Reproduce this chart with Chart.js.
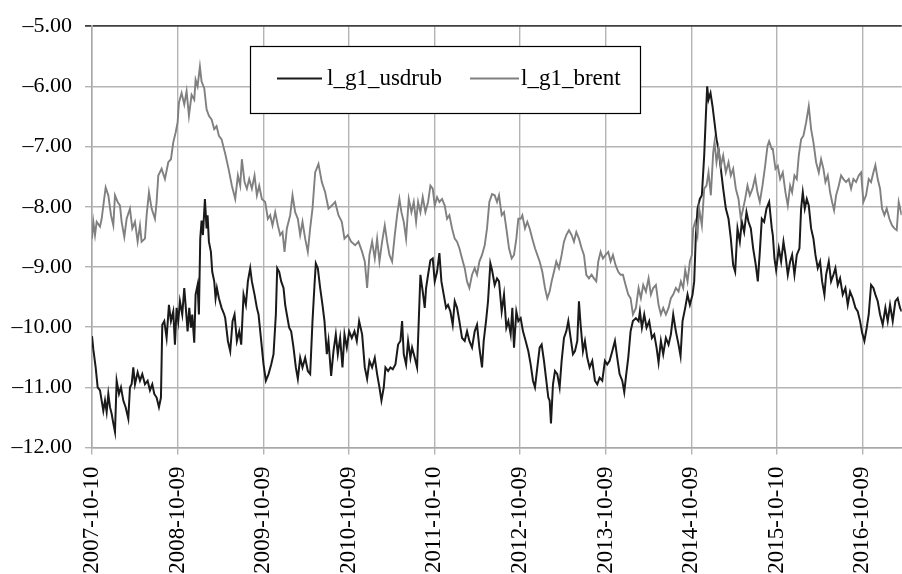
<!DOCTYPE html>
<html>
<head>
<meta charset="utf-8">
<script src="https://cdn.jsdelivr.net/npm/chart.js@4.4.1/dist/chart.umd.min.js"></script>
<style>
  html, body { margin: 0; padding: 0; background: #ffffff; }
  #wrap { width: 902px; height: 574px; }
</style>
</head>
<body>
<div id="wrap"><canvas id="c" width="902" height="574"></canvas></div>
<script>
// ---- Data (observation index, ~257 observations per year) ----
const tickObs = [0, 257, 514, 771, 1028, 1285, 1542, 1799, 2056, 2313];
const tickLabels = ['2007-10-10','2008-10-09','2009-10-09','2010-10-09','2011-10-10',
                    '2012-10-09','2013-10-09','2014-10-09','2015-10-10','2016-10-09'];
const lastObs = 2431;

const usdObs = [
0,4,11,17,24,29,34,39,44,49,54,59,64,69,74,81,87,94,101,109,114,119,124,129,137,144,151,159,167,174,181,187,194,201,207,211,217,224,231,237,244,249,254,259,264,271,277,281,287,292,297,301,307,311,317,321,325,329,333,339,344,347,351,357,361,367,371,375,381,389,397,
400,408,415,422,428,435,442,448,455,462,468,475,480,488,495,500,508,515,522,530,538,545,552,556,562,568,575,580,585,592,598,605,612,618,625,632,640,648,655,662,668,672,678,685,692,698,705,710,718,725,732,738,745,752,758,765,772,780,788,795,802,
811,819,826,833,841,849,856,863,869,876,881,889,896,903,911,919,926,931,936,943,949,956,961,969,976,981,986,993,999,1003,1009,1016,1023,1029,1036,1043,1049,1056,1063,1069,1076,1083,1089,1096,1103,1111,1119,1126,1133,1141,1149,1156,1163,1171,1176,1183,1189,1196,1201,1209,1216,
1222,1230,1237,1244,1250,1257,1262,1267,1274,1280,1287,1294,1302,1310,1317,1324,1330,1337,1344,1350,1357,1364,1370,1374,1378,1384,1390,1397,1404,1410,1417,1424,1430,1437,1444,1450,1457,1462,1467,1474,1480,1487,1494,1502,1510,1517,1524,1532,1540,1547,1554,1562,1570,1577,1584,1592,1598,1604,1610,1617,1624,
1633,1641,1645,1651,1658,1665,1673,1681,1688,1695,1701,1708,1715,1723,1731,1738,1745,1753,1761,1767,1773,1781,1788,1795,1803,1808,1813,1818,1825,1831,1838,1843,1847,1851,1857,1863,1869,1875,1881,1888,1895,1903,1911,1918,1925,1931,1938,1945,1951,1958,1965,1971,1978,1985,1993,1999,2005,2011,2018,2025,2033,2041,
2044,2049,2054,2062,2069,2076,2082,2089,2096,2102,2109,2116,2124,2129,2134,2140,2146,2152,2159,2166,2172,2179,2186,2192,2199,2204,2212,2219,2226,2232,2239,2246,2254,2262,2269,2276,2284,2292,2299,2306,2312,2319,2326,2332,2339,2346,2352,2359,2366,2374,2382,2389,2396,2404,2412,2419,2426,2431];
const usdrub = [
-10.15,-10.37,-10.67,-11.00,-11.05,-11.22,-11.39,-11.22,-11.41,-11.11,-11.33,-11.44,-11.60,-11.74,-10.89,-11.11,-11.00,-11.22,-11.33,-11.52,-11.00,-10.95,-10.67,-10.95,-10.75,-10.89,-10.78,-10.95,-10.89,-11.05,-10.95,-11.11,-11.17,-11.33,-11.17,-9.96,-9.90,-10.18,-9.63,-9.90,-9.74,-10.29,-9.68,-9.90,-9.57,-9.79,-9.35,-9.63,-10.07,-9.68,-10.01,-9.79,-10.26,-9.46,-9.30,-9.79,-8.53,-8.23,-8.47,-7.87,-8.36,-8.14,-8.58,-8.75,-9.08,-9.24,-9.52,-9.35,-9.52,-9.68,-9.79,
-9.85,-10.23,-10.40,-9.90,-9.79,-10.23,-10.07,-10.29,-9.46,-9.63,-9.24,-9.02,-9.24,-9.46,-9.68,-9.79,-10.23,-10.62,-10.89,-10.78,-10.62,-10.45,-9.79,-9.02,-9.08,-9.24,-9.35,-9.63,-9.79,-10.01,-10.07,-10.34,-10.67,-10.86,-10.51,-10.67,-10.51,-10.73,-10.78,-9.90,-9.30,-8.94,-9.02,-9.35,-9.63,-9.90,-10.45,-10.23,-10.81,-10.40,-10.12,-10.45,-10.18,-10.67,-10.12,-10.34,-10.07,-10.18,-10.07,-10.23,-9.90,
-10.12,-10.67,-10.86,-10.56,-10.67,-10.51,-10.78,-11.00,-11.22,-11.00,-10.67,-10.73,-10.67,-10.70,-10.62,-10.29,-10.23,-9.90,-10.45,-10.62,-10.23,-10.51,-10.34,-10.51,-10.67,-9.90,-9.13,-9.41,-9.68,-9.35,-9.13,-8.89,-8.86,-9.24,-9.08,-8.77,-9.24,-9.46,-9.68,-9.63,-9.74,-9.96,-9.57,-9.68,-9.90,-10.18,-10.23,-10.07,-10.23,-10.34,-10.07,-9.96,-10.34,-10.67,-10.23,-9.90,-9.57,-8.94,-9.05,-9.30,-9.19,
-9.24,-9.74,-9.46,-10.01,-9.90,-10.12,-9.68,-10.34,-9.74,-9.90,-9.85,-10.07,-10.23,-10.40,-10.62,-10.89,-11.00,-10.67,-10.34,-10.29,-10.56,-10.89,-11.17,-11.22,-11.60,-10.95,-10.73,-10.78,-11.00,-10.56,-10.18,-10.07,-9.90,-10.18,-10.45,-10.40,-10.23,-9.57,-9.96,-10.40,-10.23,-10.51,-10.67,-10.56,-10.89,-10.95,-10.84,-10.89,-10.56,-10.62,-10.56,-10.40,-10.23,-10.51,-10.78,-10.89,-11.08,-10.78,-10.51,-10.07,-9.90,
-9.85,-9.90,-9.74,-10.01,-9.79,-10.01,-9.90,-10.18,-10.12,-10.34,-10.59,-10.23,-10.45,-10.18,-10.29,-10.12,-9.79,-10.07,-10.29,-10.48,-9.90,-9.68,-9.46,-9.63,-9.46,-9.24,-8.47,-8.03,-7.87,-7.81,-7.15,-6.49,-6.00,-6.22,-6.11,-6.33,-6.60,-6.88,-7.04,-7.37,-7.70,-8.03,-8.20,-8.53,-8.97,-9.08,-8.36,-8.58,-8.25,-8.42,-8.09,-8.25,-8.36,-8.69,-8.97,-9.24,-8.75,-8.20,-8.25,-8.03,-7.92,-8.36,
-8.47,-8.86,-9.05,-8.69,-8.91,-8.58,-8.80,-9.13,-8.91,-8.80,-9.13,-8.80,-8.69,-8.03,-7.76,-8.03,-7.87,-7.98,-8.36,-8.53,-8.80,-9.02,-8.91,-9.24,-9.46,-9.13,-8.91,-9.24,-9.13,-9.02,-9.30,-9.19,-9.46,-9.35,-9.63,-9.41,-9.52,-9.68,-9.74,-9.90,-10.09,-10.23,-10.01,-9.79,-9.30,-9.35,-9.46,-9.57,-9.79,-9.96,-9.68,-9.90,-9.63,-9.90,-9.57,-9.52,-9.68,-9.74];

const brentObs = [
0,4,9,14,24,29,34,41,49,57,64,69,77,84,89,97,104,114,121,129,137,144,149,159,164,171,179,189,194,199,209,219,229,237,244,251,257,261,269,277,284,291,299,307,311,317,324,329,337,344,351,359,367,374,381,389,
400,410,420,430,438,445,450,458,465,472,480,488,495,502,510,520,528,535,542,550,558,565,572,578,585,595,602,610,618,625,632,640,648,655,662,670,680,690,700,710,720,730,740,750,758,768,778,790,800,
811,819,826,833,841,849,856,863,871,879,886,893,901,909,916,923,929,936,943,951,959,966,973,979,986,993,1001,1009,1016,1023,1029,1036,1043,1051,1059,1066,1073,1081,1089,1096,1103,1111,1119,1126,1133,1141,1149,1156,1163,1171,1179,1186,1193,1201,1209,1216,
1222,1230,1237,1244,1252,1260,1267,1274,1280,1287,1292,1300,1307,1314,1322,1330,1337,1344,1352,1360,1367,1374,1380,1387,1394,1402,1410,1417,1424,1432,1440,1447,1454,1462,1470,1477,1484,1492,1500,1507,1514,1520,1527,1534,1542,1550,1557,1564,1572,1580,1587,1594,1602,1610,1617,1624,
1633,1641,1648,1655,1663,1671,1678,1685,1693,1701,1708,1715,1723,1731,1738,1745,1753,1761,1768,1775,1781,1788,1795,1801,1805,1811,1818,1823,1831,1838,1845,1851,1858,1865,1869,1875,1881,1888,1895,1903,1911,1918,1925,1933,1941,1948,1955,1961,1968,1975,1983,1991,1998,2005,2013,2021,2028,2033,2041,
2044,2052,2059,2066,2074,2082,2089,2096,2102,2109,2116,2122,2129,2136,2144,2152,2159,2166,2174,2182,2189,2196,2202,2209,2216,2222,2228,2234,2242,2249,2256,2264,2272,2279,2286,2294,2302,2309,2316,2324,2332,2339,2346,2352,2359,2366,2372,2379,2386,2394,2402,2409,2416,2422,2431];
const brent = [
-8.53,-8.25,-8.47,-8.25,-8.33,-8.20,-7.98,-7.68,-7.81,-8.14,-8.31,-7.81,-7.92,-7.98,-8.25,-8.50,-8.20,-8.03,-8.36,-8.25,-8.58,-8.31,-8.58,-8.53,-8.14,-7.76,-8.03,-8.20,-7.92,-7.48,-7.37,-7.54,-7.26,-7.21,-6.93,-6.77,-6.60,-6.27,-6.11,-6.30,-6.08,-6.49,-6.14,-6.22,-5.89,-6.00,-5.67,-5.92,-6.03,-6.38,-6.49,-6.55,-6.71,-6.66,-6.82,-6.88,
-7.12,-7.37,-7.65,-7.87,-7.48,-7.65,-7.21,-7.59,-7.70,-7.54,-7.70,-7.48,-7.81,-7.65,-7.87,-7.92,-8.20,-8.14,-8.31,-8.09,-8.31,-8.47,-8.42,-8.75,-8.36,-8.14,-7.81,-8.09,-8.20,-8.47,-8.25,-8.53,-8.75,-8.36,-8.03,-7.43,-7.29,-7.59,-7.76,-8.03,-7.98,-7.92,-8.14,-8.25,-8.53,-8.47,-8.58,-8.64,-8.58,
-8.75,-8.91,-9.35,-8.80,-8.58,-8.86,-8.53,-8.91,-8.58,-8.31,-8.58,-8.80,-8.91,-8.47,-8.14,-7.87,-8.09,-8.25,-8.53,-7.87,-8.09,-7.92,-8.25,-7.92,-8.09,-7.84,-8.09,-7.92,-7.65,-7.70,-7.98,-7.84,-7.92,-7.87,-7.98,-8.20,-8.14,-8.36,-8.53,-8.58,-8.69,-8.86,-9.02,-9.24,-9.35,-9.13,-9.02,-9.13,-8.91,-8.80,-8.64,-8.36,-7.92,-7.79,-7.81,-7.92,
-7.81,-8.14,-8.09,-8.36,-8.69,-8.86,-8.80,-8.53,-8.20,-8.20,-8.14,-8.36,-8.25,-8.36,-8.53,-8.69,-8.80,-8.91,-9.08,-9.35,-9.52,-9.41,-9.24,-9.08,-8.91,-9.02,-8.80,-8.58,-8.47,-8.39,-8.47,-8.58,-8.42,-8.53,-8.69,-8.80,-9.13,-9.19,-9.13,-9.19,-9.24,-8.91,-8.75,-8.86,-8.80,-8.75,-8.91,-8.80,-8.97,-9.08,-9.13,-9.13,-9.30,-9.46,-9.52,-9.79,
-9.68,-9.35,-9.52,-9.30,-9.41,-9.19,-9.46,-9.35,-9.30,-9.63,-9.79,-9.68,-9.79,-9.68,-9.52,-9.46,-9.35,-9.41,-9.24,-9.35,-9.05,-9.24,-8.91,-8.80,-8.36,-8.25,-8.47,-8.03,-8.31,-7.70,-7.65,-7.43,-7.81,-7.10,-6.93,-7.26,-7.04,-7.32,-7.15,-7.43,-7.26,-7.48,-7.37,-7.70,-7.87,-8.20,-8.03,-7.87,-7.65,-7.81,-7.70,-7.51,-7.76,-7.92,-7.65,-7.32,-6.99,-6.91,-7.04,
-7.04,-7.37,-7.32,-7.54,-7.43,-7.76,-7.98,-7.65,-7.76,-7.48,-7.54,-7.15,-6.88,-6.82,-6.60,-6.33,-6.71,-6.93,-7.26,-7.43,-7.21,-7.37,-7.59,-7.48,-7.76,-7.92,-8.06,-7.81,-7.65,-7.48,-7.54,-7.59,-7.54,-7.70,-7.54,-7.59,-7.48,-7.43,-7.92,-7.81,-7.54,-7.59,-7.43,-7.31,-7.54,-7.70,-8.03,-8.14,-8.03,-8.20,-8.31,-8.36,-8.39,-7.92,-8.14];

const seriesNames = ['l_g1_usdrub', 'l_g1_brent'];

// ---- Chart ----
const SERIF = '"Liberation Serif", "Times New Roman", serif';
const toPts = (xs, ys) => xs.map((x, i) => ({ x: x, y: ys[i] }));

const legendPlugin = {
  id: 'boxLegend',
  afterDraw(chart) {
    const ctx = chart.ctx;
    ctx.save();
    ctx.fillStyle = '#ffffff';
    ctx.fillRect(250, 46.5, 390.5, 67);
    ctx.strokeStyle = '#000000';
    ctx.lineWidth = 1.2;
    ctx.strokeRect(250.5, 46.5, 390, 67);
    const items = [
      { ds: chart.data.datasets[0], x0: 277, x1: 322, tx: 327 },
      { ds: chart.data.datasets[1], x0: 470, x1: 519, tx: 521 }
    ];
    ctx.font = '23px ' + SERIF;
    ctx.textBaseline = 'middle';
    ctx.textAlign = 'left';
    items.forEach(it => {
      ctx.strokeStyle = it.ds.borderColor;
      ctx.lineWidth = 2;
      ctx.beginPath();
      ctx.moveTo(it.x0, 78.5);
      ctx.lineTo(it.x1, 78.5);
      ctx.stroke();
      ctx.fillStyle = '#000000';
      ctx.fillText(it.ds.label, it.tx, 79);
    });
    ctx.restore();
  }
};

new Chart(document.getElementById('c'), {
  type: 'line',
  data: {
    datasets: [
      { label: seriesNames[0], data: toPts(usdObs, usdrub), borderColor: '#1a1a1a',
        borderWidth: 2, pointRadius: 0, tension: 0, order: 2 },
      { label: seriesNames[1], data: toPts(brentObs, brent), borderColor: '#808080',
        borderWidth: 1.9, pointRadius: 0, tension: 0, order: 1 }
    ]
  },
  options: {
    responsive: false,
    animation: false,
    devicePixelRatio: 1,
    layout: { padding: { top: 22.5, right: 0, left: 0, bottom: 0 } },
    plugins: { legend: { display: false }, tooltip: { enabled: false } },
    scales: {
      x: {
        type: 'linear',
        min: 0,
        max: lastObs,
        afterBuildTicks(scale) { scale.ticks = tickObs.map(v => ({ value: v })); },
        afterFit(scale) { scale.height = 126.5; },
        ticks: {
          autoSkip: false,
          minRotation: 90,
          maxRotation: 90,
          padding: 12,
          color: '#000000',
          font: { family: SERIF, size: 23 },
          callback(value) { const i = tickObs.indexOf(value); return i >= 0 ? tickLabels[i] : ''; }
        },
        grid: { color: '#b4b4b4', lineWidth: 1.4, tickLength: 7, drawTicks: true },
        border: { color: '#a8a8a8', width: 1.5 }
      },
      y: {
        min: -12,
        max: -5,
        afterFit(scale) { scale.width = 92; },
        ticks: {
          stepSize: 1,
          padding: 13,
          color: '#000000',
          font: { family: SERIF, size: 22 },
          callback(v) { return (v < 0 ? '\u2013' : '') + Math.abs(v).toFixed(2); }
        },
        grid: {
          color: c => (c.tick && c.tick.value === -5) ? '#404040' : '#b4b4b4',
          lineWidth: c => (c.tick && c.tick.value === -5) ? 1.8 : 1.4,
          tickLength: 7
        },
        border: { color: '#a8a8a8', width: 1.5 }
      }
    }
  },
  plugins: [legendPlugin]
});
</script>
</body>
</html>
